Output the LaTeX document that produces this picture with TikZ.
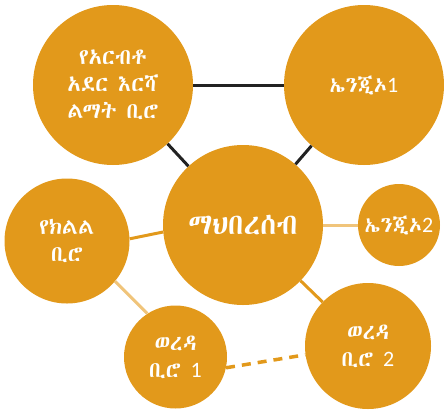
\documentclass[tikz,border=0pt]{standalone}
\usepackage{fontspec}
\setmainfont{Carlito}
\newfontfamily\lat{Carlito}
\newfontfamily\eth{Abyssinica SIL}
\definecolor{org}{HTML}{E2991B}
\definecolor{tan}{HTML}{F0C47A}
\definecolor{dk}{HTML}{222222}
\tikzset{
  bub/.style={circle, fill=org, draw=none, inner sep=0pt, text=white, align=center,
    font=\eth\fontsize{22}{27}\selectfont},
  blk/.style={draw=dk, line width=3pt},
  lt/.style={draw=tan, line width=3pt},
  og/.style={draw=org, line width=3pt},
  dsh/.style={draw=org, line width=3.5pt, dash pattern=on 9pt off 7pt},
}
\begin{document}
\begin{tikzpicture}[x=1pt,y=-1pt]
\useasboundingbox (0,0) rectangle (444,410);
\node[bub, minimum size=160pt] (tl) at (113,85) {የአርብቶ\\አደር እርሻ\\ልማት ቢሮ};
\node[bub, minimum size=160pt] (tr) at (364,85) {ኤንጂኦ{\lat 1}};
\node[bub, minimum size=160pt, font=\eth\fontsize{29}{30}\selectfont] (com) at (243,225) {ማህበረሰብ};
\node[bub, minimum size=82pt] (e2) at (399,225) {ኤንጂኦ{\lat 2}};
\node[bub, minimum size=125pt] (reg) at (67,241) {የክልል\\ቢሮ};
\node[bub, minimum size=103pt] (w1) at (175.5,357) {ወረዳ\\ቢሮ {\lat 1}};
\node[bub, minimum size=126pt] (w2) at (368,346) {ወረዳ\\ቢሮ {\lat 2}};
\draw[blk] (tl) -- (tr);
\draw[blk] (tl) -- (com);
\draw[blk] (tr) -- (com);
\draw[lt] (com) -- (e2);
\draw[og] (reg.2) -- (com.185);
\draw[lt] (reg.-40) -- (w1.123);
\draw[og] (com) -- (w2);
\draw[dsh] (w1.-12) -- (w2.188);
\end{tikzpicture}
\end{document}
